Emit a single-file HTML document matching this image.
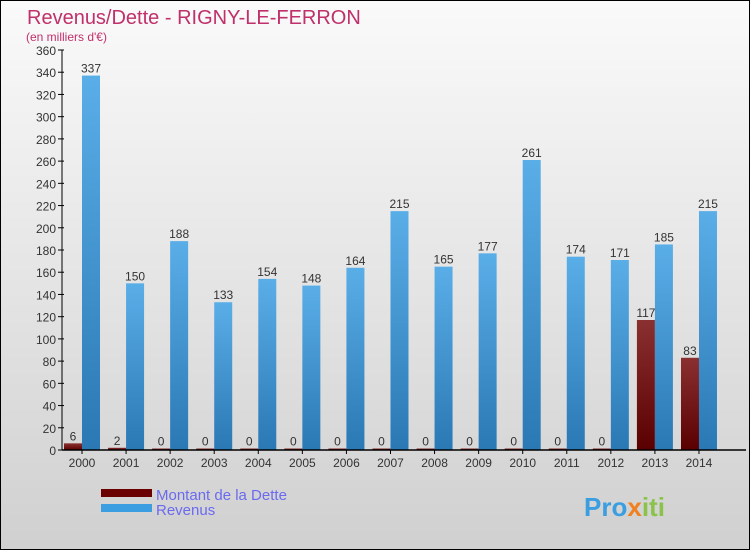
<!DOCTYPE html>
<html><head><meta charset="utf-8"><style>
body{margin:0;}
#c{position:relative;width:750px;height:550px;box-sizing:border-box;border:1px solid #000;background:linear-gradient(#fafafa,#d0d0d0);font-family:"Liberation Sans",sans-serif;overflow:hidden;}
</style></head><body>
<div id="c">
<svg id="s" width="748" height="548" style="position:absolute;left:0;top:0">
<text x="26" y="23" font-size="20" fill="#c0306a">Revenus/Dette - RIGNY-LE-FERRON</text>
<text x="25" y="40" font-size="12" fill="#c0306a">(en milliers d'€)</text>
<g id="g"></g>
<rect x="100" y="488" width="51" height="8" fill="#6b0000"/>
<text x="155" y="499" font-size="15" fill="#6a6af0">Montant de la Dette</text>
<rect x="100" y="503" width="51" height="8" fill="#3a9ee0"/>
<text x="155" y="514" font-size="15" fill="#6a6af0">Revenus</text>
<text x="583" y="515" font-size="26" font-weight="bold" fill="#3a9ee0">Pro<tspan fill="#f08020">x</tspan><tspan fill="#8bc34a">iti</tspan></text>
</svg>
</div>
<script>
const years=["2000","2001","2002","2003","2004","2005","2006","2007","2008","2009","2010","2011","2012","2013","2014"];
const dette=[6,2,0,0,0,0,0,0,0,0,0,0,0,117,83];
const revenus=[337,150,188,133,154,148,164,215,165,177,261,174,171,185,215];
const yTicks=[0,20,40,60,80,100,120,140,160,180,200,220,240,260,280,300,320,340,360];
const NS="http://www.w3.org/2000/svg";
const g=document.getElementById('g');
const y0=449,yTop=49,ymax=360;
function Y(v){return y0-(v/ymax)*(y0-yTop);}
function X(i){return 81+i*44.07;}
function mk(t,a,txt){const e=document.createElementNS(NS,t);for(const k in a)e.setAttribute(k,a[k]);if(txt!==undefined)e.textContent=txt;g.appendChild(e);return e;}
const defs=document.createElementNS(NS,'defs');
defs.innerHTML='<linearGradient id="gb" x1="0" y1="0" x2="0" y2="1"><stop offset="0" stop-color="#5aaee8"/><stop offset="1" stop-color="#2a78b4"/></linearGradient><linearGradient id="gr" x1="0" y1="0" x2="0" y2="1"><stop offset="0" stop-color="#8a3030"/><stop offset="1" stop-color="#5a0000"/></linearGradient>';
g.appendChild(defs);
yTicks.forEach(v=>{
 const t=mk('text',{x:55,y:Y(v)+5,'font-size':12,fill:'#333','text-anchor':'end'},v);
 
 
 const l=mk('line',{x1:57,x2:63,y1:Y(v),y2:Y(v),stroke:'#000'});
 
 
});
years.forEach((yr,i)=>{
 const cx=X(i);
 const hd=Math.max(Y(0)-Y(dette[i]),1.5);
 const d=mk('rect',{x:cx-18,y:Y(0)-hd,width:18,height:hd,fill:'url(#gr)'});
 
 
 const r=mk('rect',{x:cx,y:Y(revenus[i]),width:18,height:Y(0)-Y(revenus[i]),fill:'url(#gb)'});
 
 
 const ld=mk('text',{x:cx-9,y:Y(0)-hd-3,'font-size':12,fill:'#333','text-anchor':'middle'},dette[i]);
 
 
 const lr=mk('text',{x:cx+9,y:Y(revenus[i])-3,'font-size':12,fill:'#333','text-anchor':'middle'},revenus[i]);
 
 
 const xl=mk('text',{x:cx,y:466,'font-size':12,fill:'#333','text-anchor':'middle'},yr);
 
 
 const xt=mk('line',{x1:cx,x2:cx,y1:y0,y2:y0+4,stroke:'#000'});
 
 
});
const ya=mk('line',{x1:61,x2:61,y1:yTop,y2:y0,stroke:'#000'});


const xa=mk('line',{x1:61,x2:745,y1:y0,y2:y0,stroke:'#000','stroke-width':1.5});


</script>
</body></html>
